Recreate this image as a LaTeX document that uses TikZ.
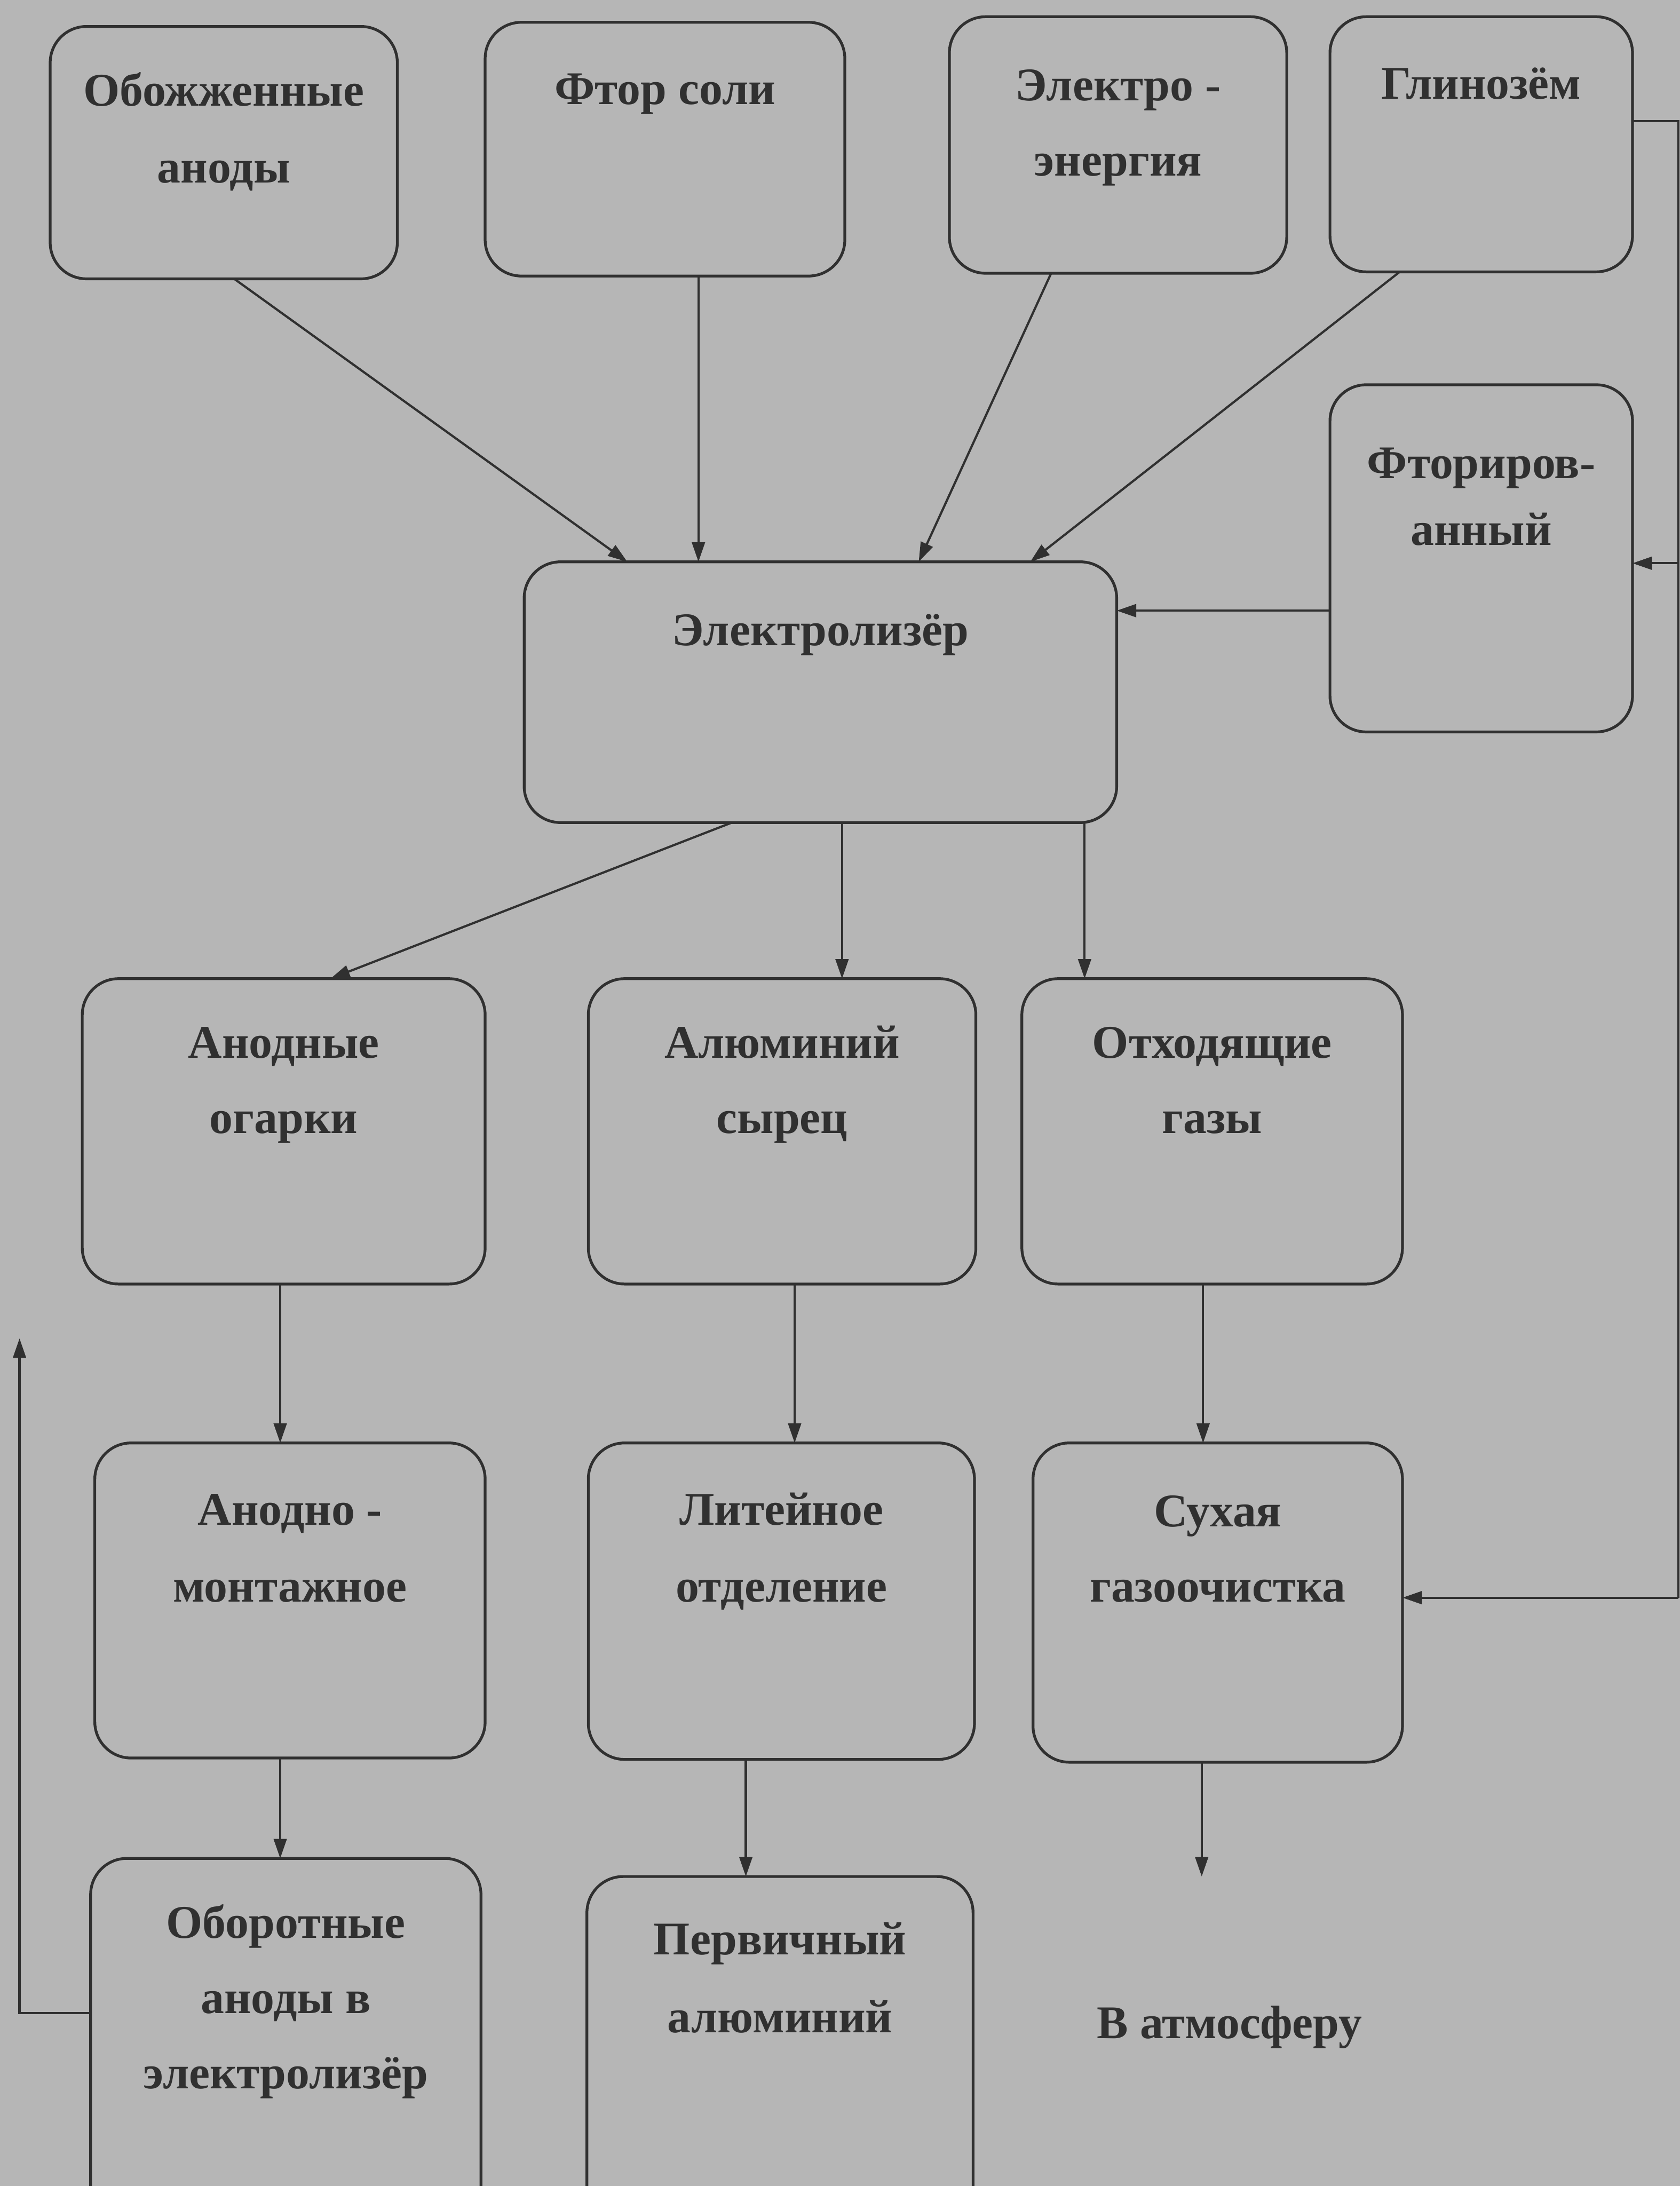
\documentclass[tikz,border=0pt]{standalone}
\usepackage{fontspec}
\setmainfont{Liberation Serif}
\usetikzlibrary{arrows.meta,calc}
\definecolor{bgc}{HTML}{B6B6B6}
\definecolor{ink}{HTML}{303030}
\begin{document}
\begin{tikzpicture}[x=0.5pt,y=-0.5pt,
  box/.style={draw=ink, line width=1pt, rounded corners=13pt, inner sep=0pt, outer sep=0pt},
  txt/.style={anchor=base, inner sep=0pt, text=ink, font=\fontsize{16.8}{20}\selectfont\bfseries},
  ln/.style={draw=ink, line width=0.8pt},
  arr/.style={ln, -{Triangle[length=7pt,width=4.6pt]}}]
\useasboundingbox (0,0) rectangle (1205,1568);
\fill[bgc] (0,0) rectangle (1205,1568);
\clip (0,0) rectangle (1205,1568);

% boxes
\node[box, minimum width=124.5pt, minimum height=90.5pt] (obo) at (160.5,109.5) {};
\node[box, minimum width=129pt, minimum height=91pt] (ftor) at (477,107) {};
\node[box, minimum width=121pt, minimum height=92pt] (el) at (802,104) {};
\node[box, minimum width=108.5pt, minimum height=91.5pt] (gl) at (1062.5,103.5) {};
\node[box, minimum width=108.5pt, minimum height=124.5pt] (fl) at (1062.5,400.5) {};
\node[box, minimum width=212.5pt, minimum height=93.5pt] (elz) at (588.5,496.5) {};
\node[box, minimum width=144.5pt, minimum height=109.5pt] (og) at (203.5,811.5) {};
\node[box, minimum width=139pt, minimum height=109.5pt] (al) at (561,811.5) {};
\node[box, minimum width=136.5pt, minimum height=109.5pt] (gaz) at (869.5,811.5) {};
\node[box, minimum width=140pt, minimum height=113pt] (am) at (208,1148) {};
\node[box, minimum width=138.5pt, minimum height=113.5pt] (lit) at (560.5,1148.5) {};
\node[box, minimum width=132.5pt, minimum height=114.5pt] (suh) at (873.5,1149.5) {};
\node[box, minimum width=140pt, minimum height=133.5pt] (obr) at (205,1466.5) {};
\node[box, minimum width=138.5pt, minimum height=127pt] (perv) at (559.5,1473) {};

% texts
\node[txt] (obo1) at (160.5,76) {Обожженные};
\node[txt] (obo2) at (160.5,131) {аноды};
\node[txt] (ftor1) at (477,75) {Фтор соли};
\node[txt] (el1) at (802,72) {Электро -};
\node[txt] (el2) at (802,126) {энергия};
\node[txt] (gl1) at (1062.5,71) {Глинозём};
\node[txt] (fl1) at (1062.5,343) {Фториров-};
\node[txt] (fl2) at (1062.5,391) {анный};
\node[txt] (elz1) at (588.5,463) {Электролизёр};
\node[txt] (og1) at (203.5,759) {Анодные};
\node[txt] (og2) at (203.5,813) {огарки};
\node[txt] (al1) at (561,759) {Алюминий};
\node[txt] (al2) at (561,813) {сырец};
\node[txt] (gaz1) at (869.5,759) {Отходящие};
\node[txt] (gaz2) at (869.5,813) {газы};
\node[txt] (am1) at (208,1094) {Анодно -};
\node[txt] (am2) at (208,1149) {монтажное};
\node[txt] (lit1) at (560.5,1094) {Литейное};
\node[txt] (lit2) at (560.5,1149) {отделение};
\node[txt] (suh1) at (873.5,1095) {Сухая};
\node[txt] (suh2) at (873.5,1149) {газоочистка};
\node[txt] (obr1) at (205,1390) {Оборотные};
\node[txt] (obr2) at (205,1444) {аноды в};
\node[txt] (obr3) at (205,1498) {электролизёр};
\node[txt] (perv1) at (559.5,1402) {Первичный};
\node[txt] (perv2) at (559.5,1458) {алюминий};
\node[txt] (atm) at (882,1462) {В атмосферу};

% helper coordinates
\coordinate (r1) at (1204,87);
\coordinate (r2) at (1204,404);
\coordinate (r3) at (1204,1146);
\coordinate (cf) at (0,438);
\coordinate (atmtip) at (862,1346);
\coordinate (l1) at (14,1444);
\coordinate (l2) at (14,960);

% inputs to electrolyser
\draw[arr] ($(obo.south)+(7.5,0)$) -- ($(elz.north)+(-138.5,0)$);
\draw[arr] ($(ftor.south)+(24,0)$) -- ($(elz.north)+(-87.5,0)$);
\draw[arr] ($(el.south)+(-48,0)$) -- ($(elz.north)+(70.5,0)$);
\draw[arr] ($(gl.south)+(-58.5,0)$) -- ($(elz.north)+(150.5,0)$);
\draw[arr] (fl.west |- cf) -- (elz.east |- cf);

% right-hand line
\draw[ln] (gl.east |- r1) -- (r1) -- (r3);
\draw[arr] (r2) -- (fl.east |- r2);
\draw[arr] (r3) -- (suh.east |- r3);

% outputs
\draw[arr] ($(elz.south)+(-63.5,0)$) -- ($(og.north)+(33.5,0)$);
\draw[arr] ($(elz.south)+(15.5,0)$) -- ($(al.north)+(43,0)$);
\draw[arr] ($(elz.south)+(189.5,0)$) -- ($(gaz.north)+(-91.5,0)$);
\draw[arr] ($(og.south)+(-2.5,0)$) -- ($(am.north)+(-7,0)$);
\draw[arr] ($(al.south)+(9,0)$) -- ($(lit.north)+(9.5,0)$);
\draw[arr] ($(gaz.south)+(-6.5,0)$) -- ($(suh.north)+(-10.5,0)$);
\draw[arr] ($(am.south)+(-7,0)$) -- ($(obr.north)+(-4,0)$);
\draw[arr] ($(lit.south)+(-25.5,0)$) -- ($(perv.north)+(-24.5,0)$);
\draw[arr] ($(suh.south)+(-11.5,0)$) -- (atmtip);
\draw[arr] (obr.west |- l1) -- (l1) -- (l2);
\end{tikzpicture}
\end{document}
